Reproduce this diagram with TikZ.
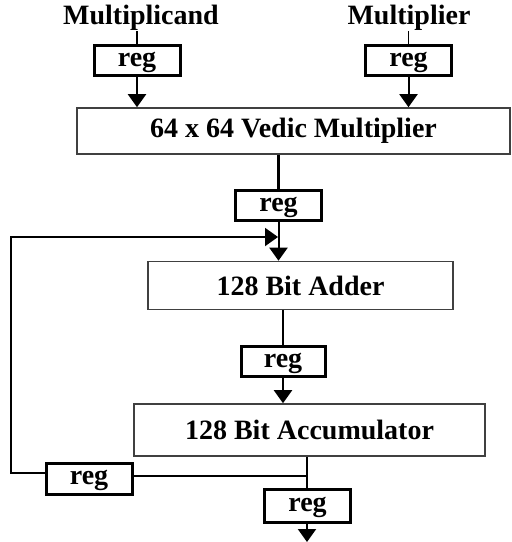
\documentclass[tikz,border=0pt]{standalone}
\usepackage{fontspec}
\setmainfont{Liberation Serif}
\usetikzlibrary{arrows.meta}

\begin{document}
\begin{tikzpicture}[x=0.5pt, y=-0.5pt,
    every node/.style={font=\fontsize{14}{16}\selectfont\bfseries, inner sep=0},
    reg/.style={draw=black, line width=1.5pt, minimum width=43pt, minimum height=15pt,
      text height=8pt, text depth=2pt},
    block/.style={draw=black!75, line width=0.8pt, minimum height=24pt},
    wire/.style={line width=1pt},
    flow/.style={wire, -{Triangle[width=9pt, length=6.5pt]}}]
    \useasboundingbox (0,0) rectangle (511,542);

    \node (mcand) at (141,18) {Multiplicand};
    \node (mplier) at (409,18) {Multiplier};
    \node[reg] (rega) at (137,60) {reg};
    \node[reg] (regb) at (408.5,60) {reg};
    \node[block, minimum width=216.5pt, minimum height=23pt] (vedic) at (293.5,131) {64 x 64 Vedic Multiplier};
    \node[reg] (regc) at (278.5,205) {reg};
    \node[block, minimum width=152.5pt] (adder) at (300.5,285.5) {128 Bit Adder};
    \node[reg, minimum width=42pt] (regd) at (283,361.5) {reg};
    \node[block, minimum width=175.5pt, minimum height=26pt] (acc) at (309.5,430) {128 Bit Accumulator};
    \node[reg, minimum height=15.5pt] (rege) at (89,478.5) {reg};
    \node[reg, minimum height=16.5pt] (regf) at (307.5,505.5) {reg};

    \coordinate (join) at (278,237);
    \coordinate (tap) at (307,476);
    \coordinate (corner) at (11,473);
    \coordinate (out) at (307,542);

    \draw[line width=0.6pt] (mcand.south -| rega) -- (rega.north);
    \draw[line width=0.6pt] (mplier.south -| regb) -- (regb.north);
    \draw[flow] (rega.south) -- (rega.south |- vedic.north);
    \draw[flow] (regb.south) -- (regb.south |- vedic.north);
    \draw[line width=1.5pt] (vedic.south -| regc) -- (regc.north);
    \draw[flow] (regc.south) -- (regc.south |- adder.north);
    \draw[wire] (adder.south -| regd) -- (regd.north);
    \draw[flow] (regd.south) -- (regd.south |- acc.north);
    \draw[wire] (acc.south -| tap) -- (tap) -- (regf.north -| tap);
    \draw[wire] (tap) -- (tap -| rege.east);
    \draw[flow] (rege.west |- corner) -- (corner) -- (corner |- join) -- (join);
    \draw[flow] (regf.south -| out) -- (out);
\end{tikzpicture}
\end{document}
